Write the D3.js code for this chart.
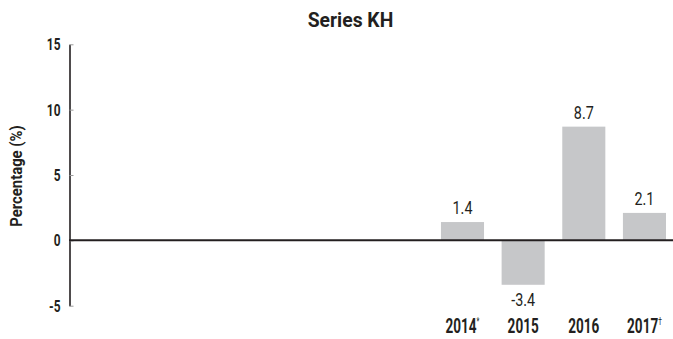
<!DOCTYPE html>
<html>
<head>
<meta charset="utf-8">
<script src="https://cdn.jsdelivr.net/npm/d3@7"></script>
<style>
  html, body { margin: 0; padding: 0; background: #fff; }
  svg { display: block; }
  text { font-family: Roboto, "Liberation Sans", sans-serif; fill: #231f20; }
</style>
</head>
<body>
<svg id="chart" width="673" height="339"></svg>
<script>
// ---- data ----
const title = "Series KH";
const yLabel = "Percentage (%)";
const categories = ["c1", "c2", "c3", "c4", "c5", "c6", "2014", "2015", "2016", "2017"];
const categoryLabels = ["", "", "", "", "", "", "2014", "2015", "2016", "2017"];
const categoryMarks = ["", "", "", "", "", "", "*", "", "", "\u2020"];
const values = [null, null, null, null, null, null, 1.4, -3.4, 8.7, 2.1];
const valueLabels = ["", "", "", "", "", "", "1.4", "-3.4", "8.7", "2.1"];
const yTicks = [-5, 0, 5, 10, 15];

// ---- layout ----
const svg = d3.select("#chart");
const x = d3.scaleBand()
  .domain(categories)
  .range([69, 674])
  .paddingInner(0.29)
  .paddingOuter(0.132);
const y = d3.scaleLinear().domain([-5, 15]).range([305.7, 44.3]);

// helper: horizontally condensed text
function ctext(parent, px, py, sx, size, weight, str, rotate) {
  const t = parent.append("text")
    .attr("transform", `translate(${px},${py})` + (rotate ? ` rotate(${rotate})` : "") + ` scale(${sx},1)`)
    .attr("text-anchor", "middle")
    .style("font-size", size + "px")
    .style("font-weight", weight);
  if (str !== null) t.text(str);
  return t;
}

// title
ctext(svg, 350.5, 27, 0.92, 21, "bold", title);

// y axis title
ctext(svg, 22, 176, 0.9, 16.5, "bold", yLabel, -90);

// bars
const rows = categories.map((c, i) => ({ c, v: values[i], label: valueLabels[i], cat: categoryLabels[i], mark: categoryMarks[i] }));
const withVals = rows.filter(d => d.v !== null);

svg.append("g").selectAll("rect")
  .data(withVals)
  .join("rect")
  .attr("x", d => x(d.c))
  .attr("width", x.bandwidth())
  .attr("y", d => y(Math.max(0, d.v)))
  .attr("height", d => Math.abs(y(d.v) - y(0)))
  .attr("fill", "#c6c7c9");

// y axis
const tickSx = 0.7;
const yAxis = d3.axisLeft(y).tickValues(yTicks).tickSizeInner(-4).tickSizeOuter(0).tickPadding(9)
  .tickFormat(d => String(d));
const gy = svg.append("g").attr("transform", "translate(69.5,0)").call(yAxis);
gy.attr("font-family", null).attr("font-size", null);
gy.select(".domain").attr("stroke", "#231f20").attr("stroke-width", 1.6);
gy.selectAll(".tick line").attr("stroke", "#9a9a9a").attr("stroke-width", 1);
gy.selectAll(".tick text")
  .attr("transform", `scale(${tickSx},1)`)
  .attr("x", -9 / tickSx)
  .style("font-size", "17px").style("font-weight", "bold")
  .attr("fill", "#231f20");

// zero line
svg.append("line")
  .attr("x1", 69).attr("x2", 673)
  .attr("y1", y(0)).attr("y2", y(0))
  .attr("stroke", "#231f20").attr("stroke-width", 2);

// value labels
const vg = svg.append("g");
withVals.forEach(d => {
  ctext(vg, x(d.c) + x.bandwidth() / 2, d.v >= 0 ? y(d.v) - 8 : y(d.v) + 21, 0.82, 17.5, "normal", d.label);
});

// category labels
const cg = svg.append("g");
withVals.forEach(d => {
  const t = ctext(cg, x(d.c) + x.bandwidth() / 2, 333, 0.66, 20.5, "bold", null);
  t.append("tspan").text(d.cat);
  if (d.mark) {
    t.append("tspan").attr("dy", -8)
      .style("font-size", "10px").style("font-weight", "normal")
      .text(d.mark);
  }
});
</script>
</body>
</html>
